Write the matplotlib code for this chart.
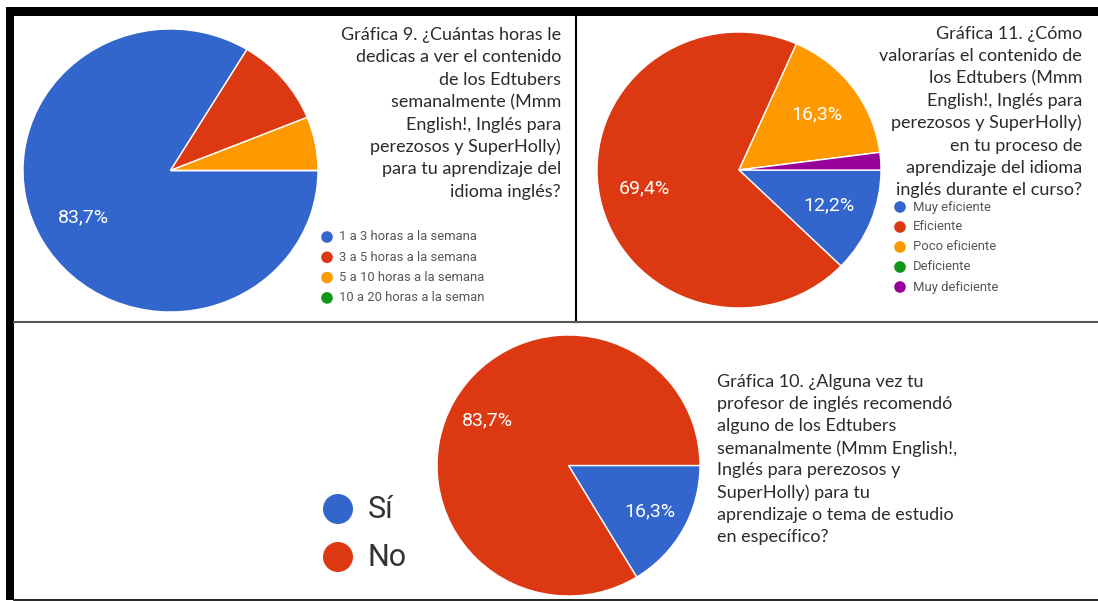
import matplotlib
matplotlib.use('Agg')
import matplotlib.pyplot as plt
from matplotlib.patches import Rectangle, Circle

# figure size in pixels
W, H = 1098, 601

# Google Forms palette
colors = ['#3366cc', '#dc3912', '#ff9900', '#109618', '#990099']

# Gráfica 9 data
horas_labels = ['1 a 3 horas a la semana', '3 a 5 horas a la semana',
                '5 a 10 horas a la semana', '10 a 20 horas a la semana']
horas_counts = [41, 5, 3, 0]
horas_title = ['Gráfica 9. ¿Cuántas horas le', 'dedicas a ver el contenido',
               'de los Edtubers', 'semanalmente (Mmm', 'English!, Inglés para',
               'perezosos y SuperHolly)', 'para tu aprendizaje del', 'idioma inglés?']

# Gráfica 11 data
valor_labels = ['Muy eficiente', 'Eficiente', 'Poco eficiente', 'Deficiente', 'Muy deficiente']
valor_counts = [6, 34, 8, 0, 1]
valor_title = ['Gráfica 11. ¿Cómo', 'valorarías el contenido de', 'los Edtubers (Mmm',
               'English!, Inglés para', 'perezosos y SuperHolly)', 'en tu proceso de',
               'aprendizaje del idioma', 'inglés durante el curso?']

# Gráfica 10 data
recom_labels = ['Sí', 'No']
recom_counts = [8, 41]
recom_title = ['Gráfica 10. ¿Alguna vez tu', 'profesor de inglés recomendó',
               'alguno de los Edtubers', 'semanalmente (Mmm English!,',
               'Inglés para perezosos y', 'SuperHolly) para tu',
               'aprendizaje o tema de estudio', 'en específico?']

fig = plt.figure(figsize=(W / 100, H / 100), dpi=100)
fig.patch.set_facecolor('white')


def pie_axes(left, top, w, h):
    return fig.add_axes([left / W, 1 - (top + h) / H, w / W, h / H])


def pct(p):
    return f'{p:.1f}%'.replace('.', ',') if p >= 12 else ''


def draw_pie(ax, counts, dist):
    _, _, autotexts = ax.pie(counts, colors=colors[:len(counts)], startangle=0,
                             counterclock=False, autopct=pct, pctdistance=dist,
                             wedgeprops=dict(edgecolor='white', linewidth=1))
    for t in autotexts:
        t.set_color('white')
        t.set_fontsize(14)
        t.set_family('Roboto')
    ax.set_xlim(-1, 1)
    ax.set_ylim(-1, 1)
    ax.set_aspect('auto')
    ax.axis('off')


draw_pie(pie_axes(23, 29, 295, 283), horas_counts, 0.68)
draw_pie(pie_axes(597, 32, 284, 276), valor_counts, 0.68)
draw_pie(pie_axes(437, 335, 263, 261), recom_counts, 0.71)

# overlay in pixel coordinates for frames, titles and legends
ov = fig.add_axes([0, 0, 1, 1], zorder=10)
ov.set_xlim(0, W)
ov.set_ylim(H, 0)
ov.axis('off')
ov.patch.set_alpha(0)

# frame lines
ov.add_patch(Rectangle((6, 7), 8, 593, color='black', lw=0))
ov.add_patch(Rectangle((6, 7), 1092, 9, color='black', lw=0))
ov.plot([575.5, 575.5], [16, 322], color='black', lw=1.5)
ov.plot([14, 1098], [322, 322], color='#555555', lw=1.5)
ov.plot([14, 1098], [599.5, 599.5], color='black', lw=1.2)

title_kw = dict(family='Lato', fontsize=13, color='#2b2b2b', va='center')

for i, line in enumerate(horas_title):
    ov.text(561, 35 + 22.4 * i, line, ha='right', **title_kw)
for i, line in enumerate(valor_title):
    ov.text(1082, 34 + 22.3 * i, line, ha='right', **title_kw)
for i, line in enumerate(recom_title):
    ov.text(717, 382 + 22.1 * i, line, ha='left', **title_kw)

# legends
leg_kw = dict(family='Roboto', fontsize=9.4, color='#555555', va='center')
for i, lab in enumerate(horas_labels):
    y = 237 + 20.3 * i
    ov.add_patch(Circle((327, y), 5.8, color=colors[i], lw=0))
    t = ov.text(339, y, lab, clip_on=True, **leg_kw)
    # the last entry is cut off at the panel edge
    t.set_clip_path(Rectangle((330, 220), 155, 100, transform=ov.transData))

for i, lab in enumerate(valor_labels):
    y = 207 + 20 * i
    ov.add_patch(Circle((900, y), 5.8, color=colors[i], lw=0))
    ov.text(913, y, lab, **leg_kw)

for i, lab in enumerate(recom_labels):
    y = 509 + 48 * i
    ov.add_patch(Circle((338, y), 15, color=colors[i], lw=0))
    ov.text(368, y, lab, family='Roboto', fontsize=22, color='#333333', va='center')

fig.savefig('out.png', dpi=100)
